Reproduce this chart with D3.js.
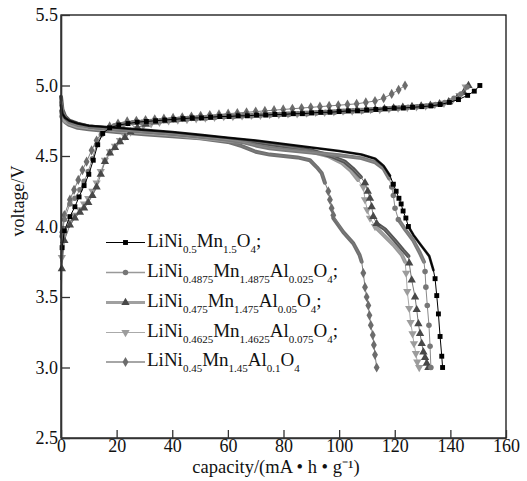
<!DOCTYPE html>
<html>
<head>
<meta charset="utf-8">
<script src="https://cdn.jsdelivr.net/npm/d3@7"></script>
<style>
  body { margin: 0; background: #fff; }
  text { font-family: "Liberation Serif", "Times New Roman", serif; fill: #111; }
</style>
</head>
<body>
<div id="chart"></div>
<script>
const xTicks = [0, 20, 40, 60, 80, 100, 120, 140, 160];
const yTicks = [2.5, 3.0, 3.5, 4.0, 4.5, 5.0, 5.5];

const legendLabels = [
  "LiNi_{0.5}Mn_{1.5}O_{4};",
  "LiNi_{0.4875}Mn_{1.4875}Al_{0.025}O_{4};",
  "LiNi_{0.475}Mn_{1.475}Al_{0.05}O_{4};",
  "LiNi_{0.4625}Mn_{1.4625}Al_{0.075}O_{4};",
  "LiNi_{0.45}Mn_{1.45}Al_{0.1}O_{4}"
];

// charge curves [capacity, voltage]
const charge1 = [[0,3.62],[0.4,3.85],[1.2,3.97],[3.2,4.07],[5,4.14],[6.5,4.21],[8.3,4.29],[10,4.37],[11.6,4.47],[13.2,4.58],[15,4.66],[17.5,4.70],[20.8,4.72],[24.1,4.73],[27.4,4.74],[30.7,4.745],[34,4.75],[37.3,4.755],[40.6,4.76],[43.9,4.765],[47.2,4.77],[50.5,4.77],[53.8,4.775],[57.1,4.78],[60.4,4.78],[63.7,4.785],[67,4.785],[70.3,4.79],[73.6,4.79],[76.9,4.795],[80.2,4.795],[83.5,4.80],[86.8,4.80],[90.1,4.805],[93.4,4.81],[96.7,4.81],[100,4.815],[103.3,4.82],[106.6,4.82],[109.9,4.825],[113.2,4.83],[116.5,4.835],[119.8,4.84],[123.1,4.84],[126.4,4.845],[129.7,4.85],[133,4.855],[136.3,4.865],[139.6,4.88],[142.9,4.90],[146.2,4.93],[148.6,4.96],[150.6,5.0]];
const charge2 = [[0,3.75],[0.4,3.93],[1.2,4.05],[3.2,4.16],[5,4.2],[6.8,4.26],[8.3,4.32],[9.8,4.39],[11.3,4.48],[12.8,4.58],[14.5,4.65],[16.6,4.69],[19.2,4.715],[22.5,4.725],[25.8,4.735],[29.1,4.74],[32.4,4.745],[35.7,4.75],[39,4.755],[42.3,4.76],[45.6,4.765],[48.9,4.77],[52.2,4.77],[55.5,4.775],[58.8,4.78],[62.1,4.78],[65.4,4.785],[68.7,4.785],[72,4.79],[75.3,4.79],[78.6,4.795],[81.9,4.795],[85.2,4.80],[88.5,4.80],[91.8,4.805],[95.1,4.81],[98.4,4.81],[101.7,4.815],[105,4.82],[108.3,4.82],[111.6,4.825],[114.9,4.83],[118.2,4.835],[121.5,4.84],[124.8,4.845],[128.1,4.85],[131.4,4.855],[134.7,4.865],[138,4.88],[141.3,4.91],[143.8,4.94],[146,4.99]];
const charge3 = [[0,3.4],[0.3,3.7],[1.2,3.9],[3.2,4.01],[5,4.06],[6.8,4.1],[8.3,4.13],[9.8,4.17],[11.3,4.22],[12.8,4.28],[14.3,4.37],[15.8,4.46],[17.6,4.52],[19.4,4.56],[21.2,4.6],[23,4.63],[25,4.67],[27.5,4.70],[30.5,4.725],[33.8,4.74],[37.1,4.75],[40.4,4.755],[43.7,4.76],[47,4.765],[50.3,4.77],[53.6,4.775],[56.9,4.78],[60.2,4.785],[63.5,4.785],[66.8,4.79],[70.1,4.79],[73.4,4.795],[76.7,4.795],[80,4.80],[83.3,4.80],[86.6,4.805],[89.9,4.81],[93.2,4.81],[96.5,4.815],[99.8,4.82],[103.1,4.82],[106.4,4.825],[109.7,4.83],[113,4.83],[116.3,4.835],[119.6,4.84],[122.9,4.845],[126.2,4.85],[129.5,4.855],[132.8,4.86],[136.1,4.87],[139.4,4.885],[142.4,4.91],[144.8,4.95],[146.5,5.0]];
const charge4 = [[0,3.5],[0.3,3.78],[1.2,3.95],[3.2,4.03],[5,4.08],[6.8,4.12],[8.3,4.16],[9.8,4.2],[11.3,4.25],[12.8,4.31],[14.3,4.39],[15.8,4.47],[17.6,4.53],[19.4,4.57],[21.2,4.61],[23,4.64],[25,4.67],[27.3,4.695],[29.6,4.715],[32.4,4.73],[35.4,4.74],[38.7,4.75],[42,4.755],[45.3,4.76],[48.6,4.765],[51.9,4.77],[55.2,4.775],[58.5,4.78],[61.8,4.78],[65.1,4.785],[68.4,4.79],[71.7,4.79],[75,4.795],[78.3,4.795],[81.6,4.80],[84.9,4.80],[88.2,4.805],[91.5,4.81],[94.8,4.81],[98.1,4.815],[101.4,4.82],[104.7,4.82],[108,4.825],[111.3,4.83],[114.6,4.83],[117.9,4.835],[121.2,4.84],[124.5,4.845],[127.8,4.85],[131.1,4.855],[134.4,4.865],[137.7,4.875],[140.7,4.895],[143.3,4.93],[145.5,4.99]];
const charge5 = [[0,3.8],[0.4,3.96],[1.2,4.08],[3.2,4.19],[4.7,4.26],[6.2,4.33],[7.7,4.4],[9.2,4.46],[11,4.54],[12.8,4.61],[14.8,4.67],[17.5,4.71],[20.5,4.73],[23.8,4.745],[27.1,4.75],[30.4,4.755],[33.7,4.76],[37,4.765],[40.3,4.77],[43.6,4.775],[46.9,4.78],[50.2,4.785],[53.5,4.79],[56.8,4.795],[60.1,4.80],[63.4,4.805],[66.7,4.81],[70,4.815],[73.3,4.82],[76.6,4.825],[79.9,4.83],[83.2,4.835],[86.5,4.84],[89.8,4.845],[93.1,4.85],[96.4,4.855],[99.7,4.86],[103,4.865],[106.3,4.87],[109.6,4.88],[112.9,4.89],[116,4.91],[118.9,4.94],[121.4,4.97],[123.7,5.0]];

// discharge curves: dense parts (drawn as a thick band, null = gap) and sparse marked points
const dis1Band = [[0,4.86],[0.5,4.8],[1.5,4.77],[3,4.75],[6,4.73],[10,4.715],[20,4.70],[30,4.685],[40,4.67],[50,4.65],[60,4.63],[70,4.61],[80,4.585],[90,4.56],[100,4.535],[108,4.51],[113,4.48],[116,4.43],[118.3,4.36],null,[124.9,4.0],[126.7,3.94],[129.3,3.87],[132.4,3.79],[133.9,3.69]];
const dis1Marks = [[119.5,4.30],[120.5,4.25],[121.5,4.2],[122.3,4.16],[123,4.11],[124,4.06],[124.9,4.0],[134.5,3.63],[135.1,3.51],[135.7,3.38],[136.3,3.22],[136.9,3.08],[137.2,3.0]];
const dis2Band = [[0,4.88],[0.5,4.81],[1.5,4.77],[3,4.74],[6,4.72],[10,4.71],[20,4.69],[30,4.675],[40,4.66],[50,4.64],[60,4.615],[65,4.6],[70,4.575],[75,4.555],[80,4.545],[90,4.525],[100,4.505],[108,4.485],[113,4.455],[116,4.41],[118,4.34],null,[121.3,4.05],[123.7,3.98],[126.7,3.9],[129.1,3.81],[130.5,3.75]];
const dis2Marks = [[118.9,4.28],[119.5,4.22],[120.1,4.13],[121.3,4.05],[130.9,3.68],[131.2,3.57],[131.7,3.44],[132.3,3.3],[132.7,3.15],[133,3.0]];
const dis3Band = [[0,4.92],[0.5,4.83],[1.5,4.78],[3,4.75],[6,4.73],[10,4.71],[20,4.69],[30,4.675],[40,4.66],[50,4.64],[60,4.62],[70,4.6],[80,4.57],[90,4.54],[97,4.5],[102,4.46],[105,4.41],[107.8,4.35],null,[113.5,4.02],[116.5,3.98],[120.1,3.9],[123.1,3.83],[124.9,3.79]];
const dis3Marks = [[109.3,4.31],[110.3,4.25],[111.1,4.2],[111.7,4.14],[112.3,4.07],[113.5,4.02],[125.2,3.74],[126.1,3.62],[127.3,3.5],[127.9,3.41],[128.5,3.31],[129.1,3.24],[129.7,3.17],[130.3,3.11],[130.9,3.07],[131.5,3.03],[132.1,3.0]];
const dis4Band = [[0,4.78],[1,4.75],[3,4.73],[6,4.71],[10,4.70],[20,4.68],[30,4.665],[40,4.65],[50,4.63],[60,4.61],[70,4.59],[80,4.56],[90,4.53],[96,4.5],[101,4.45],[104,4.4],[106.8,4.33],null,[112.9,4.0],[115.9,3.94],[119.5,3.87],[122.5,3.8],[123.7,3.75]];
const dis4Marks = [[108.7,4.28],[109.3,4.19],[110.1,4.12],[111.1,4.06],[112.9,4.0],[124.1,3.67],[124.5,3.54],[125.2,3.42],[125.7,3.32],[126.4,3.24],[126.9,3.17],[127.6,3.1],[128.1,3.04],[128.8,3.0]];
const dis5Band = [[0,4.82],[0.5,4.77],[1.5,4.74],[3,4.72],[6,4.70],[10,4.69],[20,4.67],[30,4.655],[40,4.64],[50,4.625],[60,4.60],[65,4.57],[70,4.53],[75,4.51],[80,4.5],[85,4.49],[89.5,4.47],[92,4.42],[93.7,4.38],[94.9,4.31],null,[97.9,4.06],[101.5,3.96],[105.1,3.88],[107.3,3.8],[108.1,3.75]];
const dis5Marks = [[96.1,4.25],[96.7,4.19],[97.3,4.13],[97.9,4.08],[108.7,3.67],[109.3,3.57],[109.9,3.5],[110.5,3.44],[110.9,3.37],[111.4,3.3],[112.1,3.23],[112.5,3.16],[112.9,3.09],[113.5,3.0]];

const charges = [charge1, charge2, charge3, charge4, charge5];
const bands = [dis1Band, dis2Band, dis3Band, dis4Band, dis5Band];
const marks = [dis1Marks, dis2Marks, dis3Marks, dis4Marks, dis5Marks];

const markColor = ["#000", "#767676", "#484848", "#9c9c9c", "#6c6c6c"];
const bandColor = ["#1a1a1a", "#7a7a7a", "#555", "#999", "#707070"];
const bandWidth = [2.6, 4, 4, 4, 4];
const lineColor = ["#000", "#8a8a8a", "#777", "#a8a8a8", "#7c7c7c"];
const legendLineColor = ["#000", "#999", "#a0a0a0", "#aaa", "#888"];
const legendLineWidth = [1, 1.5, 3, 1, 1.5];
const symbols = [d3.symbolSquare, d3.symbolCircle, d3.symbolTriangle, d3.symbolTriangle, d3.symbolDiamond];
const symbolSize = [24, 24, 30, 30, 30];
const symbolRotate = [0, 0, 0, 180, 0];

const width = 527, height = 481;
const margin = { left: 61, top: 15, right: 21, bottom: 43 };

const svg = d3.select("#chart").append("svg").attr("width", width).attr("height", height);
svg.append("rect").attr("width", width).attr("height", height).attr("fill", "#fff");

const x = d3.scaleLinear().domain([0, 160]).range([margin.left, width - margin.right]);
const y = d3.scaleLinear().domain([2.5, 5.5]).range([height - margin.bottom, margin.top]);

const line = d3.line().defined((d) => d).x((d) => x(d[0])).y((d) => y(d[1]));

function drawMarks(g, pts, i) {
  const sym = d3.symbol().type(symbols[i]).size(symbolSize[i]);
  g.selectAll(null)
    .data(pts)
    .join("path")
    .attr("d", sym)
    .attr("transform", (d) => `translate(${x(d[0])},${y(d[1])}) rotate(${symbolRotate[i]})`)
    .attr("fill", markColor[i]);
}

const plot = svg.append("g");
[4, 3, 2, 1, 0].forEach((i) => {
  const g = plot.append("g");
  // discharge
  g.append("path")
    .attr("d", line(bands[i]))
    .attr("fill", "none")
    .attr("stroke", bandColor[i])
    .attr("stroke-width", bandWidth[i])
    .attr("stroke-linecap", "round")
    .attr("stroke-linejoin", "round");
  const all = bands[i].filter((d) => d).concat(marks[i]).sort((a, b) => a[0] - b[0]);
  g.append("path")
    .attr("d", line(all))
    .attr("fill", "none")
    .attr("stroke", lineColor[i])
    .attr("stroke-width", 1);
  drawMarks(g, marks[i], i);
  // charge
  g.append("path")
    .attr("d", line(charges[i]))
    .attr("fill", "none")
    .attr("stroke", lineColor[i])
    .attr("stroke-width", 1);
  drawMarks(g, charges[i].slice(1), i);
});

// frame
svg.append("rect")
  .attr("x", x(0)).attr("y", y(5.5))
  .attr("width", x(160) - x(0)).attr("height", y(2.5) - y(5.5))
  .attr("fill", "none").attr("stroke", "#111").attr("stroke-width", 1.3);

const xAxis = svg.append("g")
  .attr("transform", `translate(0,${y(2.5)})`)
  .call(d3.axisBottom(x).tickValues(xTicks).tickSize(-8).tickSizeOuter(0).tickPadding(1));
const yAxis = svg.append("g")
  .attr("transform", `translate(${x(0)},0)`)
  .call(d3.axisLeft(y).tickValues(yTicks).tickFormat(d3.format(".1f")).tickSize(-9).tickSizeOuter(0).tickPadding(3));
[xAxis, yAxis].forEach((a) => {
  a.select(".domain").attr("stroke", "#333").attr("stroke-width", 1.6);
  a.selectAll(".tick line").attr("stroke", "#333").attr("stroke-width", 1.3);
  a.selectAll(".tick text").attr("font-size", 18).attr("fill", "#111")
    .style("font-family", '"Liberation Serif", "Times New Roman", serif');
});

svg.append("text")
  .attr("x", 276).attr("y", 473)
  .attr("text-anchor", "middle").attr("font-size", 18.5)
  .text("capacity/(mA \u2022 h \u2022 g\u207B\u00B9)");
svg.append("text")
  .attr("transform", "translate(24,201) rotate(-90)")
  .attr("text-anchor", "middle").attr("font-size", 18)
  .text("voltage/V");

// legend
const rowY = [242.5, 272.5, 302.5, 332.5, 362];
legendLabels.forEach((lab, i) => {
  const g = svg.append("g").attr("transform", `translate(0,${rowY[i]})`);
  g.append("line").attr("x1", 106).attr("x2", 145)
    .attr("stroke", legendLineColor[i]).attr("stroke-width", legendLineWidth[i]);
  const sym = d3.symbol().type(symbols[i]).size(symbolSize[i]);
  g.append("path").attr("d", sym)
    .attr("transform", `translate(125.5,0) rotate(${symbolRotate[i]})`)
    .attr("fill", markColor[i]);
  const t = g.append("text").attr("x", 147).attr("y", 4).attr("font-size", 19);
  const parts = lab.split(/(_\{[^}]*\})/).filter((s) => s.length);
  let sub = false;
  parts.forEach((p) => {
    if (p.startsWith("_{")) {
      t.append("tspan").attr("dy", 6).attr("font-size", 11).text(p.slice(2, -1));
      sub = true;
    } else {
      t.append("tspan").attr("dy", sub ? -6 : 0).text(p);
      sub = false;
    }
  });
});
</script>
</body>
</html>
